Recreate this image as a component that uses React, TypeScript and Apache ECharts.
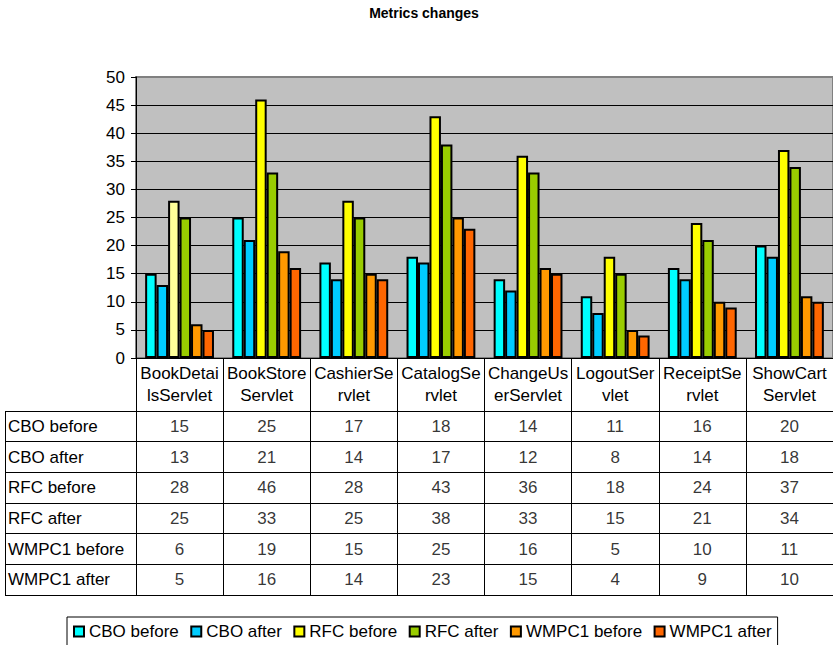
import React, { useEffect, useRef } from "react";
import * as echarts from "echarts";

const categories = [
  "BookDetailsServlet",
  "BookStoreServlet",
  "CashierServlet",
  "CatalogServlet",
  "ChangeUserServlet",
  "LogoutServlet",
  "ReceiptServlet",
  "ShowCartServlet",
];
const categoryLabels = [
  "BookDetai\nlsServlet",
  "BookStore\nServlet",
  "CashierSe\nrvlet",
  "CatalogSe\nrvlet",
  "ChangeUs\nerServlet",
  "LogoutSer\nvlet",
  "ReceiptSe\nrvlet",
  "ShowCart\nServlet",
];
const seriesNames = ["CBO before", "CBO after", "RFC before", "RFC after", "WMPC1 before", "WMPC1 after"];
const cboBefore = [15, 25, 17, 18, 14, 11, 16, 20];
const cboAfter = [13, 21, 14, 17, 12, 8, 14, 18];
const rfcBefore = [28, 46, 28, 43, 36, 18, 24, 37];
const rfcAfter = [25, 33, 25, 38, 33, 15, 21, 34];
const wmpc1Before = [6, 19, 15, 25, 16, 5, 10, 11];
const wmpc1After = [5, 16, 14, 23, 15, 4, 9, 10];
const yTicks = [0, 5, 10, 15, 20, 25, 30, 35, 40, 45, 50];

const seriesValues = [cboBefore, cboAfter, rfcBefore, rfcAfter, wmpc1Before, wmpc1After];
const seriesColors = ["#00ffff", "#00ccff", "#ffff00", "#99cc00", "#ff9900", "#ff6600"];

const FONT = "'Liberation Sans', Arial, sans-serif";

export default function App() {
  const ref = useRef<HTMLDivElement>(null);
  useEffect(() => {
    document.body.style.margin = "0";
    const chart = echarts.init(ref.current!, null, { renderer: "svg" });

    const GL = 136;
    const GW = 704;
    const bars = seriesNames.map((name, si) => ({
      name,
      type: "bar",
      xAxisIndex: 0,
      yAxisIndex: 0,
      barGap: "0%",
      barCategoryGap: "21%",
      itemStyle: { color: seriesColors[si], borderColor: "#000", borderWidth: 2 },
      data: seriesValues[si].map((v, ci) =>
        si === 2 && ci === 0 ? { value: v, itemStyle: { color: "#ffff99" } } : v
      ),
    }));

    const tableData: any[] = [];
    seriesValues.forEach((vals, ri) =>
      vals.forEach((v, ci) => tableData.push([ci, ri, v]))
    );

    chart.setOption({
      animation: false,
      textStyle: { fontFamily: FONT },
      title: {
        text: "Metrics changes",
        left: 424,
        textAlign: "center",
        top: 6,
        padding: 0,
        textStyle: { fontFamily: FONT, fontSize: 14, fontWeight: "bold", color: "#000" },
      },
      legend: {
        data: seriesNames,
        left: 67,
        top: 617,
        padding: [6, 6, 6, 6],
        borderColor: "#000",
        borderWidth: 1,
        itemWidth: 10,
        itemHeight: 10,
        itemGap: 11.5,
        icon: "rect",
        itemStyle: { borderColor: "#000", borderWidth: 2 },
        textStyle: { fontFamily: FONT, fontSize: 17, color: "#000" },
      },
      grid: [
        {
          left: GL,
          top: 77,
          width: GW,
          height: 281,
          show: true,
          backgroundColor: "#c0c0c0",
          borderColor: "#808080",
          borderWidth: 2,
        },
        {
          left: GL,
          top: 411,
          width: GW,
          height: 184,
          show: false,
        },
      ],
      xAxis: [
        {
          type: "category",
          gridIndex: 0,
          data: categories,
          axisLine: { show: true, lineStyle: { color: "#000", width: 1 } },
          axisTick: { show: true, length: 53, interval: 0, lineStyle: { color: "#000" } },
          axisLabel: {
            interval: 0,
            margin: 4,
            fontFamily: FONT,
            fontSize: 17,
            lineHeight: 22,
            color: "#000",
            formatter: (_v: string, i: number) => categoryLabels[i],
          },
        },
        {
          type: "category",
          gridIndex: 1,
          data: categories,
          axisLine: { show: true, lineStyle: { color: "#000", width: 1 } },
          axisTick: { show: false },
          axisLabel: { show: false, interval: 0 },
          splitLine: { show: true, interval: 0, lineStyle: { color: "#000", width: 1 } },
        },
      ],
      yAxis: [
        {
          type: "value",
          gridIndex: 0,
          min: 0,
          max: 50,
          interval: 5,
          axisLine: { show: true, lineStyle: { color: "#000", width: 1 } },
          axisTick: { show: true, length: 5, lineStyle: { color: "#000" } },
          axisLabel: {
            margin: 11,
            fontFamily: FONT,
            fontSize: 17,
            color: "#000",
            formatter: (v: number) => (yTicks.includes(v) ? String(v) : ""),
          },
          splitLine: { show: true, showMaxLine: false, lineStyle: { color: "#000", width: 1 } },
        },
        {
          type: "category",
          gridIndex: 1,
          inverse: true,
          data: seriesNames,
          axisLine: { show: true, lineStyle: { color: "#000", width: 1 } },
          axisTick: { show: true, length: 131, interval: 0, lineStyle: { color: "#000", width: 1 } },
          axisLabel: {
            interval: 0,
            align: "left",
            margin: 128,
            fontFamily: FONT,
            fontSize: 17,
            color: "#000",
          },
          splitLine: { show: true, interval: 0, lineStyle: { color: "#000", width: 1 } },
        },
      ],
      graphic: [
        {
          type: "line",
          shape: { x1: 5.5, y1: 411, x2: 5.5, y2: 595 },
          style: { stroke: "#000", lineWidth: 1 },
        },
      ],
      series: [
        ...bars,
        {
          type: "scatter",
          xAxisIndex: 1,
          yAxisIndex: 1,
          symbolSize: 1,
          itemStyle: { color: "rgba(0,0,0,0)" },
          silent: true,
          label: {
            show: true,
            position: "inside",
            fontFamily: FONT,
            fontSize: 17,
            color: "#000",
            formatter: (p: any) => String(p.value[2]),
          },
          data: tableData,
        },
      ],
    });
    return () => chart.dispose();
  }, []);
  return <div ref={ref} style={{ width: 833, height: 645 }} />;
}
